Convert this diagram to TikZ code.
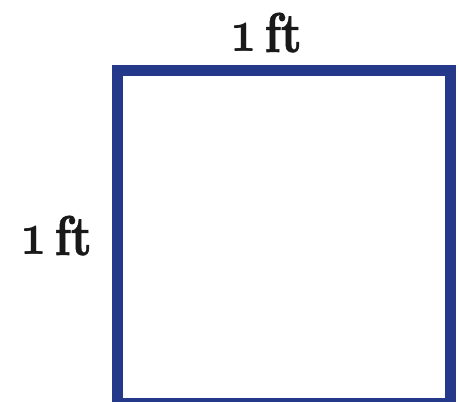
\documentclass[tikz,border=0pt]{standalone}
\usepackage{fontspec}
\usepackage{graphicx}
\usepackage{xcolor}

\newfontfamily\labelfont{lmroman10-bold}[Extension=.otf, FakeBold=1.2]
\definecolor{sqblue}{HTML}{24398A}
% Old-style one from the bold math italic font, scaled up
\newcommand{\osone}{\scalebox{4.6}[6.2]{\fontsize{10}{12}\selectfont\boldmath$\mathnormal{1}$}}
\newcommand{\ftlabel}{\osone\hspace{8pt}\scalebox{0.84}[1]{ft}}

\begin{document}
\begin{tikzpicture}[x=1pt, y=1pt, line width=11pt]

\useasboundingbox (0,0) rectangle (459,402);

% Square corners
\coordinate (sw) at (117.5,-1.5);
\coordinate (ne) at (450.5,331.5);

% Square
\draw[sqblue] (sw) rectangle (ne);

% Side labels
\tikzset{sidelabel/.style={
    font=\labelfont\fontsize{56}{60}\selectfont,
    text=black!90,
    inner sep=0pt,
    anchor=base
}}

\node[sidelabel] (top) at (266,350) {\ftlabel};
\node[sidelabel] (left) at (56,147) {\ftlabel};

\end{tikzpicture}
\end{document}
